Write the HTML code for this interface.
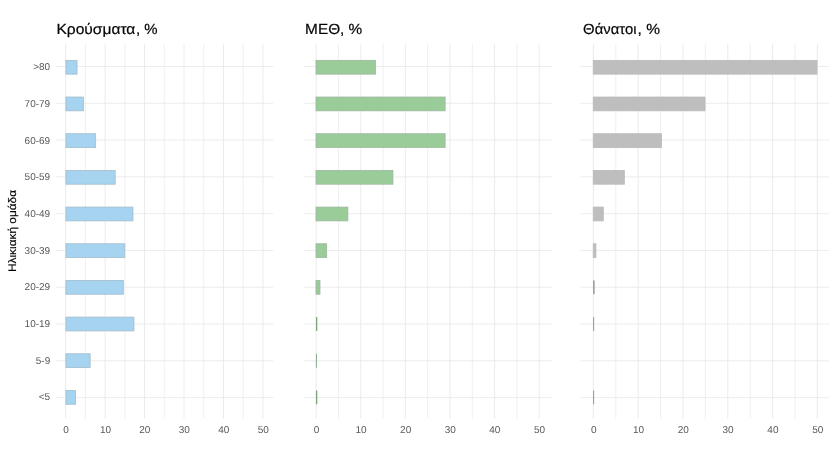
<!DOCTYPE html>
<html lang="el"><head><meta charset="utf-8"><title>chart</title>
<style>
html,body{margin:0;padding:0;background:#fff;}
body{width:840px;height:453px;overflow:hidden;}
svg{display:block;font-family:"Liberation Sans",sans-serif;text-rendering:geometricPrecision;filter:blur(0.35px);}
.t{font-size:14.7px;fill:#050505;stroke:#050505;stroke-width:0.2px;}
.a{font-size:10px;fill:#585858;}
.y{font-size:11px;fill:#000;stroke:#000;stroke-width:0.15px;}
</style></head><body>
<svg width="840" height="453" viewBox="0 0 840 453">
<rect width="840" height="453" fill="#ffffff"/>
<g stroke="#e9e9e9" stroke-width="0.85" fill="none">
<line x1="65.70" y1="43.8" x2="65.70" y2="418.6" stroke-width="0.9"/>
<line x1="85.42" y1="43.8" x2="85.42" y2="418.6" stroke-width="0.75"/>
<line x1="105.14" y1="43.8" x2="105.14" y2="418.6" stroke-width="0.9"/>
<line x1="124.86" y1="43.8" x2="124.86" y2="418.6" stroke-width="0.75"/>
<line x1="144.58" y1="43.8" x2="144.58" y2="418.6" stroke-width="0.9"/>
<line x1="164.30" y1="43.8" x2="164.30" y2="418.6" stroke-width="0.75"/>
<line x1="184.02" y1="43.8" x2="184.02" y2="418.6" stroke-width="0.9"/>
<line x1="203.74" y1="43.8" x2="203.74" y2="418.6" stroke-width="0.75"/>
<line x1="223.46" y1="43.8" x2="223.46" y2="418.6" stroke-width="0.9"/>
<line x1="243.18" y1="43.8" x2="243.18" y2="418.6" stroke-width="0.75"/>
<line x1="262.90" y1="43.8" x2="262.90" y2="418.6" stroke-width="0.9"/>
<line x1="55.8" y1="66.50" x2="273.2" y2="66.50"/>
<line x1="55.8" y1="103.29" x2="273.2" y2="103.29"/>
<line x1="55.8" y1="140.08" x2="273.2" y2="140.08"/>
<line x1="55.8" y1="176.87" x2="273.2" y2="176.87"/>
<line x1="55.8" y1="213.66" x2="273.2" y2="213.66"/>
<line x1="55.8" y1="250.45" x2="273.2" y2="250.45"/>
<line x1="55.8" y1="287.24" x2="273.2" y2="287.24"/>
<line x1="55.8" y1="324.03" x2="273.2" y2="324.03"/>
<line x1="55.8" y1="360.82" x2="273.2" y2="360.82"/>
<line x1="55.8" y1="397.61" x2="273.2" y2="397.61"/>
</g>
<g fill="#a6d4f0" stroke="#a3bccb" stroke-width="0.8">
<rect x="65.90" y="60.35" width="11.15" height="13.8"/>
<rect x="65.90" y="97.03" width="17.54" height="13.8"/>
<rect x="65.90" y="133.71" width="29.77" height="13.8"/>
<rect x="65.90" y="170.39" width="49.29" height="13.8"/>
<rect x="65.90" y="207.07" width="67.04" height="13.8"/>
<rect x="65.90" y="243.75" width="58.95" height="13.8"/>
<rect x="65.90" y="280.43" width="57.38" height="13.8"/>
<rect x="65.90" y="317.11" width="68.03" height="13.8"/>
<rect x="65.90" y="353.79" width="24.25" height="13.8"/>
<rect x="65.90" y="390.47" width="9.65" height="13.8"/>
</g>
<text class="t" y="34.3"><tspan x="56.4" textLength="79.0" lengthAdjust="spacingAndGlyphs">Κρούσματα</tspan><tspan x="135.9" textLength="21.6" lengthAdjust="spacingAndGlyphs">, %</tspan></text>
<g class="a" text-anchor="middle">
<text x="66.00" y="432.6">0</text>
<text x="105.44" y="432.6">10</text>
<text x="144.88" y="432.6">20</text>
<text x="184.32" y="432.6">30</text>
<text x="223.76" y="432.6">40</text>
<text x="263.20" y="432.6">50</text>
</g>
<g stroke="#e9e9e9" stroke-width="0.85" fill="none">
<line x1="316.15" y1="43.8" x2="316.15" y2="418.6" stroke-width="0.9"/>
<line x1="338.45" y1="43.8" x2="338.45" y2="418.6" stroke-width="0.75"/>
<line x1="360.76" y1="43.8" x2="360.76" y2="418.6" stroke-width="0.9"/>
<line x1="383.06" y1="43.8" x2="383.06" y2="418.6" stroke-width="0.75"/>
<line x1="405.37" y1="43.8" x2="405.37" y2="418.6" stroke-width="0.9"/>
<line x1="427.67" y1="43.8" x2="427.67" y2="418.6" stroke-width="0.75"/>
<line x1="449.98" y1="43.8" x2="449.98" y2="418.6" stroke-width="0.9"/>
<line x1="472.28" y1="43.8" x2="472.28" y2="418.6" stroke-width="0.75"/>
<line x1="494.59" y1="43.8" x2="494.59" y2="418.6" stroke-width="0.9"/>
<line x1="516.89" y1="43.8" x2="516.89" y2="418.6" stroke-width="0.75"/>
<line x1="539.20" y1="43.8" x2="539.20" y2="418.6" stroke-width="0.9"/>
<line x1="304.4" y1="66.50" x2="551.6" y2="66.50"/>
<line x1="304.4" y1="103.29" x2="551.6" y2="103.29"/>
<line x1="304.4" y1="140.08" x2="551.6" y2="140.08"/>
<line x1="304.4" y1="176.87" x2="551.6" y2="176.87"/>
<line x1="304.4" y1="213.66" x2="551.6" y2="213.66"/>
<line x1="304.4" y1="250.45" x2="551.6" y2="250.45"/>
<line x1="304.4" y1="287.24" x2="551.6" y2="287.24"/>
<line x1="304.4" y1="324.03" x2="551.6" y2="324.03"/>
<line x1="304.4" y1="360.82" x2="551.6" y2="360.82"/>
<line x1="304.4" y1="397.61" x2="551.6" y2="397.61"/>
</g>
<g fill="#9acc9a" stroke="#9fb79f" stroke-width="0.8">
<rect x="316.00" y="60.35" width="59.53" height="13.8"/>
<rect x="316.00" y="97.03" width="129.12" height="13.8"/>
<rect x="316.00" y="133.71" width="129.12" height="13.8"/>
<rect x="316.00" y="170.39" width="76.93" height="13.8"/>
<rect x="316.00" y="207.07" width="31.87" height="13.8"/>
<rect x="316.00" y="243.75" width="10.68" height="13.8"/>
<rect x="316.00" y="280.43" width="3.99" height="13.8"/>
<rect x="315.95" y="317.11" width="1.34" height="13.8" fill="#7da57d" stroke="none"/>
<rect x="315.95" y="353.79" width="0.90" height="13.8" fill="#7da57d" stroke="none"/>
<rect x="315.95" y="390.47" width="1.34" height="13.8" fill="#7da57d" stroke="none"/>
</g>
<text class="t" x="305.1" y="34.3" textLength="57.2" lengthAdjust="spacingAndGlyphs">ΜΕΘ, %</text>
<g class="a" text-anchor="middle">
<text x="316.45" y="432.6">0</text>
<text x="361.06" y="432.6">10</text>
<text x="405.67" y="432.6">20</text>
<text x="450.28" y="432.6">30</text>
<text x="494.89" y="432.6">40</text>
<text x="539.50" y="432.6">50</text>
</g>
<g stroke="#e9e9e9" stroke-width="0.85" fill="none">
<line x1="593.40" y1="43.8" x2="593.40" y2="418.6" stroke-width="0.9"/>
<line x1="615.80" y1="43.8" x2="615.80" y2="418.6" stroke-width="0.75"/>
<line x1="638.20" y1="43.8" x2="638.20" y2="418.6" stroke-width="0.9"/>
<line x1="660.60" y1="43.8" x2="660.60" y2="418.6" stroke-width="0.75"/>
<line x1="683.00" y1="43.8" x2="683.00" y2="418.6" stroke-width="0.9"/>
<line x1="705.40" y1="43.8" x2="705.40" y2="418.6" stroke-width="0.75"/>
<line x1="727.80" y1="43.8" x2="727.80" y2="418.6" stroke-width="0.9"/>
<line x1="750.20" y1="43.8" x2="750.20" y2="418.6" stroke-width="0.75"/>
<line x1="772.60" y1="43.8" x2="772.60" y2="418.6" stroke-width="0.9"/>
<line x1="795.00" y1="43.8" x2="795.00" y2="418.6" stroke-width="0.75"/>
<line x1="817.40" y1="43.8" x2="817.40" y2="418.6" stroke-width="0.9"/>
<line x1="580.6" y1="66.50" x2="829.0" y2="66.50"/>
<line x1="580.6" y1="103.29" x2="829.0" y2="103.29"/>
<line x1="580.6" y1="140.08" x2="829.0" y2="140.08"/>
<line x1="580.6" y1="176.87" x2="829.0" y2="176.87"/>
<line x1="580.6" y1="213.66" x2="829.0" y2="213.66"/>
<line x1="580.6" y1="250.45" x2="829.0" y2="250.45"/>
<line x1="580.6" y1="287.24" x2="829.0" y2="287.24"/>
<line x1="580.6" y1="324.03" x2="829.0" y2="324.03"/>
<line x1="580.6" y1="360.82" x2="829.0" y2="360.82"/>
<line x1="580.6" y1="397.61" x2="829.0" y2="397.61"/>
</g>
<g fill="#bebebe" stroke="#bababa" stroke-width="0.8">
<rect x="593.25" y="60.35" width="223.75" height="13.8"/>
<rect x="593.25" y="97.03" width="111.75" height="13.8"/>
<rect x="593.25" y="133.71" width="68.29" height="13.8"/>
<rect x="593.25" y="170.39" width="31.11" height="13.8"/>
<rect x="593.25" y="207.07" width="10.05" height="13.8"/>
<rect x="593.25" y="243.75" width="2.66" height="13.8"/>
<rect x="593.20" y="280.43" width="1.34" height="13.8" fill="#8c8c8c" stroke="none"/>
<rect x="593.20" y="317.11" width="0.90" height="13.8" fill="#8c8c8c" stroke="none"/>
<rect x="593.20" y="390.47" width="0.90" height="13.8" fill="#8c8c8c" stroke="none"/>
</g>
<text class="t" y="34.3"><tspan x="583.1" textLength="53.4" lengthAdjust="spacingAndGlyphs">Θάνατοι</tspan><tspan x="637.6" textLength="22.4" lengthAdjust="spacingAndGlyphs">, %</tspan></text>
<g class="a" text-anchor="middle">
<text x="593.70" y="432.6">0</text>
<text x="638.50" y="432.6">10</text>
<text x="683.30" y="432.6">20</text>
<text x="728.10" y="432.6">30</text>
<text x="772.90" y="432.6">40</text>
<text x="817.70" y="432.6">50</text>
</g>
<g class="a" text-anchor="end">
<text x="50.2" y="70.25">&gt;80</text>
<text x="50.2" y="106.93">70-79</text>
<text x="50.2" y="143.61">60-69</text>
<text x="50.2" y="180.29">50-59</text>
<text x="50.2" y="216.97">40-49</text>
<text x="50.2" y="253.65">30-39</text>
<text x="50.2" y="290.33">20-29</text>
<text x="50.2" y="327.01">10-19</text>
<text x="50.2" y="363.69">5-9</text>
<text x="50.2" y="400.37">&lt;5</text>
</g>
<text class="y" transform="translate(16.2,231) rotate(-90)" text-anchor="middle" textLength="82" lengthAdjust="spacingAndGlyphs">Ηλικιακή ομάδα</text>
</svg></body></html>
